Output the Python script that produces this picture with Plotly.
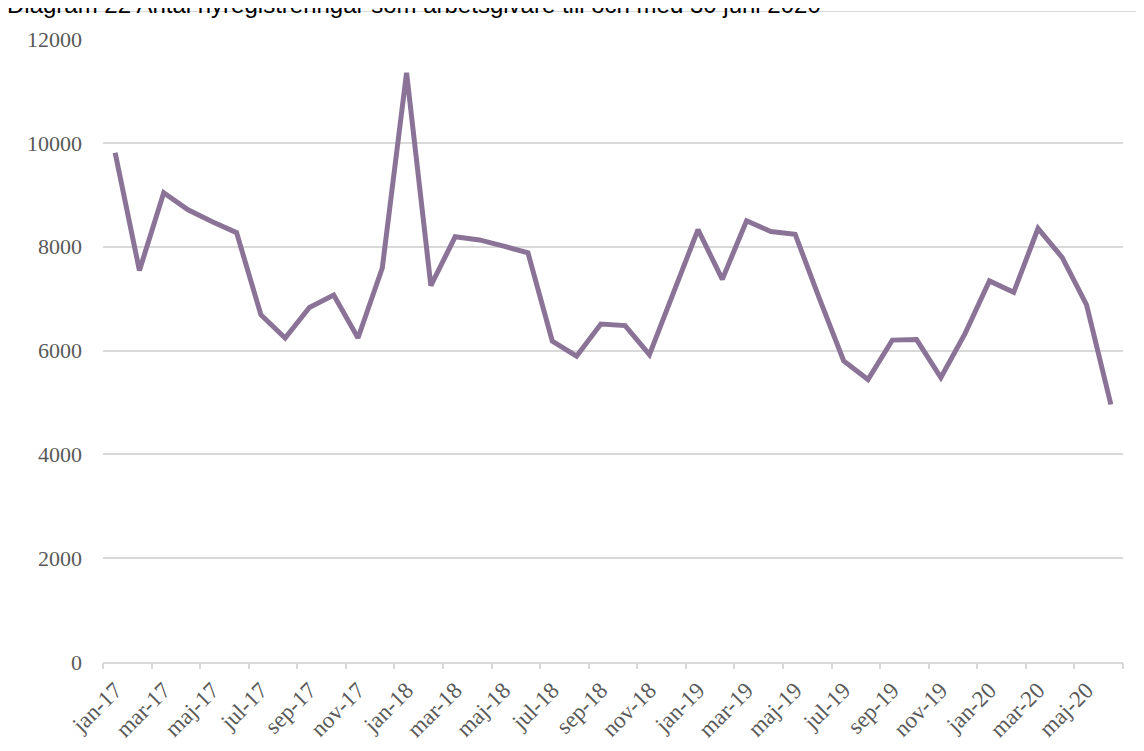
import plotly.graph_objects as go

months = ['jan-17', 'feb-17', 'mar-17', 'apr-17', 'maj-17', 'jun-17', 'jul-17', 'aug-17', 'sep-17', 'okt-17', 'nov-17', 'dec-17',
          'jan-18', 'feb-18', 'mar-18', 'apr-18', 'maj-18', 'jun-18', 'jul-18', 'aug-18', 'sep-18', 'okt-18', 'nov-18', 'dec-18',
          'jan-19', 'feb-19', 'mar-19', 'apr-19', 'maj-19', 'jun-19', 'jul-19', 'aug-19', 'sep-19', 'okt-19', 'nov-19', 'dec-19',
          'jan-20', 'feb-20', 'mar-20', 'apr-20', 'maj-20', 'jun-20']

registreringar = [9810, 7540, 9040, 8710, 8480, 8270, 6690, 6240, 6830, 7070, 6240, 7590,
                  11350, 7250, 8190, 8130, 8010, 7880, 6180, 5890, 6510, 6480, 5920, 7130,
                  8330, 7370, 8500, 8290, 8240, 7000, 5800, 5440, 6200, 6210, 5480, 6330,
                  7340, 7120, 8350, 7790, 6880, 4960]

y_ticks = [0, 2000, 4000, 6000, 8000, 10000, 12000]
title_text = "Diagram 22 Antal nyregistreringar som arbetsgivare till och med 30 juni 2020"

idx = list(range(len(months)))
label_pos = idx[::2]
label_text = months[::2]
boundaries = [i - 0.5 for i in range(0, len(months) + 1, 2)]
xr = [-0.5, len(months) - 0.5]

serif = "Liberation Serif, Times New Roman, serif"
grid_col = "#d9d9d9"

# page body has an 8px offset, margins compensate for it
fig = go.Figure()
fig.add_trace(go.Scatter(x=idx, y=registreringar, mode="lines",
                         line=dict(color="#8B7398", width=5),
                         showlegend=False, hoverinfo="skip"))
fig.add_trace(go.Scatter(x=[None], y=[None], xaxis="x2", mode="lines",
                         showlegend=False, hoverinfo="skip"))

fig.update_layout(
    width=1144, height=751,
    margin=dict(l=95, r=29, t=31, b=97),
    paper_bgcolor="white", plot_bgcolor="white",
    xaxis=dict(range=xr, tickvals=label_pos, ticktext=label_text, tickangle=-45,
               tickfont=dict(family=serif, size=23, color="#595959"),
               showgrid=False, zeroline=False, ticklabelstandoff=4,
               showline=True, linecolor=grid_col, linewidth=1.5, ticks=""),
    xaxis2=dict(range=xr, overlaying="x", anchor="y", side="bottom",
                tickvals=boundaries, ticks="outside", ticklen=6, tickwidth=1.5,
                tickcolor=grid_col, showticklabels=False, showgrid=False,
                zeroline=False, showline=False),
    yaxis=dict(range=[0, 12000], tickvals=y_ticks, tickformat="d",
               tickfont=dict(family=serif, size=22, color="#595959"),
               showgrid=True, gridcolor=grid_col, gridwidth=1.5,
               zeroline=False, showline=False, ticks="", ticklabelstandoff=20),
    shapes=[dict(type="rect", xref="paper", yref="paper",
                 x0=(7.5 - 103) / 1020, x1=1.2, y0=-0.3, y1=(662 - 11.5) / 623,
                 line=dict(color=grid_col, width=1), layer="below")],
    annotations=[dict(text=title_text, xref="paper", yref="paper", x=(5 - 103) / 1020, y=1,
                      xanchor="left", yanchor="bottom", yshift=19, showarrow=False,
                      font=dict(family="Liberation Sans, Arial, sans-serif", size=24, color="black"))],
)

fig.write_html("out.html")
